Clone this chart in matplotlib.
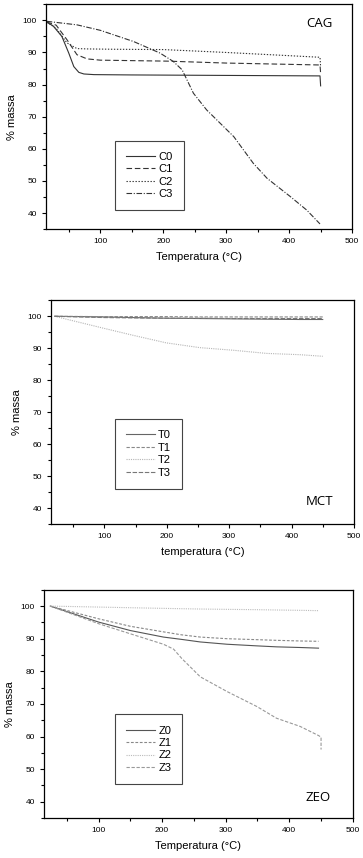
import numpy as np
import matplotlib.pyplot as plt
from matplotlib.ticker import MultipleLocator

# CAG panel
cag_x0 = [15, 25, 39, 50, 58, 66, 74, 90, 150, 250, 350, 449, 450]
cag_c0 = [99.4, 98.3, 95.0, 89.8, 85.6, 83.8, 83.3, 83.1, 83.0, 82.9, 82.8, 82.7, 79.6]
cag_x1 = [15, 30, 47, 63, 79, 100, 206, 300, 400, 449, 450]
cag_c1 = [99.5, 98.5, 94.0, 89.3, 88.0, 87.6, 87.3, 86.7, 86.3, 86.1, 83.5]
cag_x2 = [15, 30, 47, 63, 80, 120, 200, 300, 400, 449, 450]
cag_c2 = [99.5, 97.5, 93.0, 91.2, 91.1, 91.0, 90.9, 90.0, 89.0, 88.5, 85.5]
cag_x3 = [15, 63, 100, 153, 195, 216, 230, 248, 269, 312, 343, 365, 402, 428, 449]
cag_c3 = [99.7, 98.6, 96.9, 93.4, 89.8, 87.2, 84.6, 77.3, 72.1, 63.8, 55.5, 50.8, 45.1, 40.9, 36.6]

# MCT panel
mct_x = [20, 100, 145, 199, 253, 306, 360, 413, 450]
mct_t0 = [100.0, 99.8, 99.6, 99.4, 99.3, 99.2, 99.1, 99.0, 99.0]
mct_t1 = [100.0, 99.9, 99.9, 99.9, 99.8, 99.8, 99.8, 99.8, 99.8]
mct_t2 = [100.0, 96.2, 94.1, 91.7, 90.2, 89.4, 88.4, 88.0, 87.5]
mct_t3 = [100.0, 99.6, 99.5, 99.4, 99.4, 99.3, 99.3, 99.3, 99.3]

# ZEO panel
zeo_x = [24, 100, 150, 202, 230, 260, 302, 349, 380, 417, 446]
zeo_z0 = [100.0, 95.1, 92.5, 90.5, 89.8, 89.0, 88.3, 87.8, 87.5, 87.3, 87.1]
zeo_z1 = [100.0, 96.1, 93.8, 92.1, 91.2, 90.5, 90.0, 89.7, 89.5, 89.3, 89.2]
zeo_z2 = [100.0, 99.7, 99.5, 99.3, 99.2, 99.1, 99.0, 98.9, 98.8, 98.7, 98.6]
zeo_x3 = [24, 100, 150, 202, 218, 231, 244, 260, 302, 349, 380, 417, 446, 450, 450]
zeo_z3 = [100.0, 94.6, 91.5, 88.3, 86.8, 83.9, 81.4, 78.3, 73.8, 69.2, 65.6, 63.1, 60.3, 59.8, 56.0]

fig = plt.figure(figsize=(3.63, 8.58), dpi=100)
plt.rcParams['font.family'] = ['Liberation Sans', 'DejaVu Sans']


def style_axes(ax, xlabel):
    ax.set_xlim(14, 500)
    ax.set_ylim(35, 105)
    ax.xaxis.set_major_locator(MultipleLocator(100))
    ax.xaxis.set_minor_locator(MultipleLocator(50))
    ax.yaxis.set_major_locator(MultipleLocator(10))
    ax.yaxis.set_minor_locator(MultipleLocator(5))
    ax.set_yticks([40, 50, 60, 70, 80, 90, 100])
    ax.tick_params(which='both', direction='out', labelsize=6, length=3, width=0.8)
    ax.tick_params(which='minor', length=2)
    ax.set_xlabel(xlabel, fontsize=8, labelpad=5)
    ax.set_ylabel('% massa', fontsize=8)
    for s in ax.spines.values():
        s.set_linewidth(0.9)


def add_legend(ax, x0, y0):
    leg = ax.legend(loc='lower left', bbox_to_anchor=(x0, y0), fontsize=8,
                    handlelength=2.6, handletextpad=0.3, labelspacing=0.22,
                    borderpad=1.0, borderaxespad=0, fancybox=False, framealpha=1)
    leg.get_frame().set_edgecolor('#444444')
    leg.get_frame().set_linewidth(0.8)


# CAG
ax1 = fig.add_axes([0.127, 0.733, 0.843, 0.262])
ax1.plot(cag_x0, cag_c0, color='#333333', lw=0.8, ls='-', label='C0')
ax1.plot(cag_x1, cag_c1, color='#333333', lw=0.8, ls=(0, (5, 2.5)), label='C1')
ax1.plot(cag_x2, cag_c2, color='#333333', lw=0.8, ls=(0, (1.2, 1.5)), label='C2')
ax1.plot(cag_x3, cag_c3, color='#333333', lw=0.8, ls=(0, (5, 1.5, 1, 1.5)), label='C3')
style_axes(ax1, 'Temperatura (°C)')
add_legend(ax1, 0.225, 0.084)
ax1.text(448, 99, 'CAG', fontsize=9.5, family='Open Sans', ha='center', va='center')

# MCT
ax2 = fig.add_axes([0.140, 0.389, 0.835, 0.261])
ax2.plot(mct_x, mct_t0, color='#666666', lw=0.8, ls='-', label='T0')
ax2.plot(mct_x, mct_t1, color='#888888', lw=0.8, ls=(0, (3, 1.5)), label='T1')
ax2.plot(mct_x, mct_t2, color='#b5b5b5', lw=0.8, ls=(0, (1, 1)), label='T2')
ax2.plot(mct_x, mct_t3, color='#777777', lw=0.8, ls=(0, (4, 1.5)), label='T3')
style_axes(ax2, 'temperatura (°C)')
add_legend(ax2, 0.211, 0.159)
ax2.text(445, 42, 'MCT', fontsize=9.5, family='Open Sans', ha='center', va='center')

# ZEO
ax3 = fig.add_axes([0.121, 0.0466, 0.851, 0.266])
ax3.plot(zeo_x, zeo_z0, color='#555555', lw=0.8, ls='-', label='Z0')
ax3.plot(zeo_x, zeo_z1, color='#888888', lw=0.8, ls=(0, (2.5, 1.5)), label='Z1')
ax3.plot(zeo_x, zeo_z2, color='#bbbbbb', lw=0.8, ls=(0, (1, 1)), label='Z2')
ax3.plot(zeo_x3, zeo_z3, color='#999999', lw=0.8, ls=(0, (3, 1.5)), label='Z3')
style_axes(ax3, 'Temperatura (°C)')
add_legend(ax3, 0.230, 0.149)
ax3.text(446, 41.4, 'ZEO', fontsize=9.5, family='Open Sans', ha='center', va='center')

fig.savefig('out.png', dpi=100)
